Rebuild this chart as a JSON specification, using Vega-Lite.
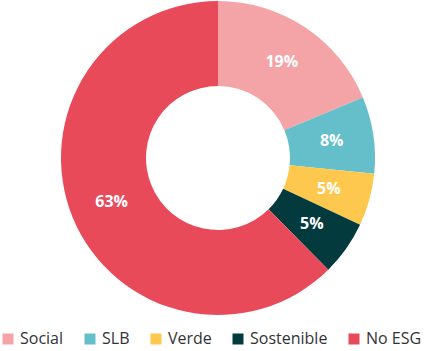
{
  "$schema": "https://vega.github.io/schema/vega-lite/v6.json",
  "width": 422,
  "height": 316,
  "padding": {"left": 7, "top": 0, "right": 0, "bottom": 35},
  "autosize": "none",
  "background": "white",
  "data": {
    "values": [
      {"idx": 1, "cat": "Social", "v": 18.7, "label": "19%"},
      {"idx": 2, "cat": "SLB", "v": 7.9, "label": "8%"},
      {"idx": 3, "cat": "Verde", "v": 5.4, "label": "5%"},
      {"idx": 4, "cat": "Sostenible", "v": 5.6, "label": "5%"},
      {"idx": 5, "cat": "No ESG", "v": 62.4, "label": "63%"}
    ]
  },
  "encoding": {
    "theta": {"field": "v", "type": "quantitative", "stack": true},
    "order": {"field": "idx", "type": "quantitative"},
    "color": {
      "field": "cat",
      "type": "nominal",
      "scale": {
        "domain": ["Social", "SLB", "Verde", "Sostenible", "No ESG"],
        "range": ["#f4a3a6", "#64bfca", "#fdc84d", "#033a3e", "#e84a59"]
      },
      "legend": {
        "title": null,
        "orient": "none",
        "direction": "horizontal",
        "legendX": -7,
        "legendY": 331,
        "symbolType": "square",
        "symbolSize": 121,
        "symbolStrokeWidth": 0,
        "labelFont": "Open Sans",
        "labelFontSize": 16,
        "labelColor": "#333333",
        "labelOffset": 4,
        "columnPadding": 18,
        "symbolOffset": 0
      }
    }
  },
  "layer": [
    {"mark": {"type": "arc", "outerRadius": 157, "innerRadius": 72}},
    {
      "mark": {"type": "text", "radius": 115, "font": "Open Sans", "fontSize": 16, "fontWeight": "bold", "fill": "white"},
      "encoding": {"text": {"field": "label"}, "color": {"value": "white"}}
    }
  ],
  "config": {"view": {"stroke": null}}
}
